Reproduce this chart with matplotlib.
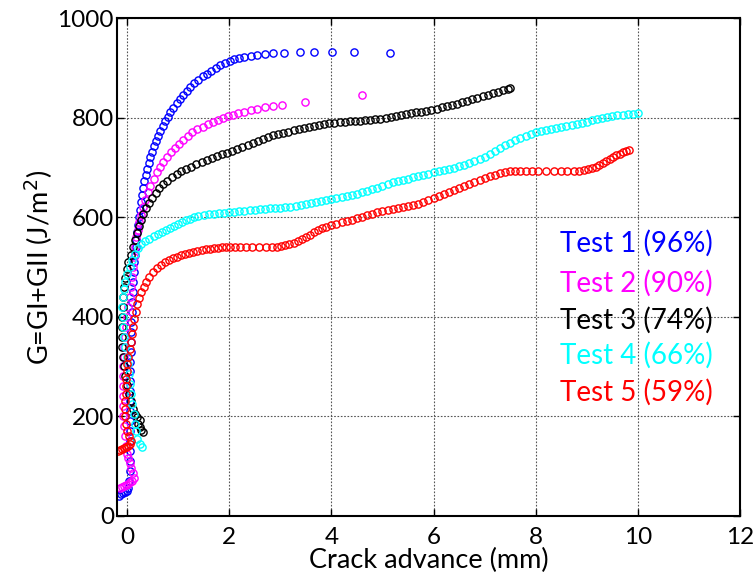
import matplotlib
matplotlib.use("Agg")
import matplotlib.pyplot as plt

plt.rcParams['font.family'] = ['Lato', 'DejaVu Sans']

# Test 1 (96%)
x1 = [-0.16, -0.12, -0.08, -0.04, 0.0, 0.03, 0.04, 0.05, 0.05, 0.05, 0.05, 0.05, 0.05, 0.05, 0.05,
      0.05, 0.06, 0.06, 0.06, 0.07, 0.07, 0.08, 0.08, 0.09, 0.10, 0.11, 0.12, 0.13, 0.14, 0.15,
      0.17, 0.18, 0.20, 0.21, 0.23, 0.25, 0.27, 0.29, 0.31, 0.34, 0.37, 0.40, 0.43, 0.46, 0.49,
      0.53, 0.57, 0.61, 0.65, 0.70, 0.75, 0.80, 0.85, 0.91, 0.97, 1.03, 1.10, 1.17, 1.24, 1.32,
      1.40, 1.48, 1.56, 1.65, 1.74, 1.83, 1.92, 2.01, 2.10, 2.20, 2.30, 2.42, 2.55, 2.70, 2.86,
      3.08, 3.38, 3.66, 4.02, 4.45, 5.15]
g1 = [40, 44, 46, 48, 50, 55, 70, 90, 110, 130, 150, 170, 190, 210, 230,
      250, 270, 290, 310, 330, 350, 370, 390, 410, 430, 450, 470, 490, 510, 525,
      540, 555, 570, 585, 600, 615, 630, 645, 658, 672, 685, 698, 710, 721, 732,
      743, 754, 764, 773, 783, 793, 802, 811, 820, 829, 838, 846, 854, 862, 869,
      876, 883, 889, 895, 901, 906, 911, 915, 918, 921, 923, 925, 927, 929, 930,
      931, 932, 933, 933, 932, 931]

# Test 2 (90%)
x2 = [-0.14, -0.10, -0.06, -0.02, 0.02, 0.06, 0.10, 0.14, 0.12, 0.08, 0.05, 0.02, 0.0, -0.02, -0.04,
      -0.06, -0.07, -0.08, -0.08, -0.08, -0.08, -0.07, -0.06, -0.05, -0.03, -0.01, 0.01, 0.03, 0.05, 0.07,
      0.09, 0.11, 0.13, 0.15, 0.18, 0.21, 0.24, 0.28, 0.32, 0.36, 0.41, 0.46, 0.52, 0.58, 0.64,
      0.71, 0.78, 0.86, 0.94, 1.02, 1.10, 1.19, 1.28, 1.38, 1.48, 1.58, 1.68, 1.78, 1.88, 1.98,
      2.08, 2.18, 2.30, 2.42, 2.55, 2.70, 2.85, 3.04, 3.48, 4.60]
g2 = [55, 58, 60, 62, 64, 67, 70, 75, 85, 95, 105, 115, 125, 140, 160,
      180, 200, 220, 240, 260, 280, 300, 320, 340, 360, 380, 400, 420, 440, 460,
      480, 500, 520, 540, 560, 575, 590, 605, 620, 635, 650, 663, 677, 690, 701,
      711, 721, 731, 740, 748, 756, 764, 771, 777, 782, 787, 792, 796, 800, 803,
      806, 809, 812, 815, 818, 821, 823, 826, 832, 846]

# Test 3 (74%)
x3 = [0.32, 0.28, 0.25, 0.22, 0.26, 0.20, 0.16, 0.12, 0.08, 0.04, 0.0, -0.03, -0.06, -0.08, -0.09,
      -0.10, -0.10, -0.09, -0.08, -0.07, -0.05, -0.03, 0.0, 0.03, 0.07, 0.11, 0.15, 0.19, 0.23, 0.27,
      0.32, 0.37, 0.43, 0.49, 0.56, 0.63, 0.71, 0.79, 0.88, 0.97, 1.06, 1.16, 1.26, 1.36, 1.46,
      1.56, 1.66, 1.76, 1.86, 1.96, 2.06, 2.16, 2.26, 2.36, 2.46, 2.56, 2.66, 2.76, 2.86, 2.96,
      3.06, 3.16, 3.26, 3.36, 3.46, 3.56, 3.66, 3.76, 3.86, 3.96, 4.06, 4.16, 4.26, 4.36, 4.46,
      4.56, 4.66, 4.76, 4.86, 4.96, 5.06, 5.16, 5.26, 5.36, 5.46, 5.56, 5.66, 5.76, 5.86, 5.96,
      6.06, 6.16, 6.26, 6.36, 6.46, 6.56, 6.66, 6.76, 6.86, 6.96, 7.06, 7.16, 7.26, 7.36, 7.46, 7.50]
g3 = [168, 172, 178, 185, 192, 198, 205, 215, 230, 245, 262, 280, 300, 320, 340,
      360, 380, 400, 420, 440, 460, 478, 495, 510, 525, 540, 555, 568, 582, 595,
      607, 618, 629, 639, 649, 658, 666, 673, 680, 686, 692, 697, 702, 707, 711,
      715, 719, 723, 727, 730, 734, 738, 742, 746, 750, 754, 758, 762, 765, 767,
      769, 772, 775, 778, 780, 782, 784, 786, 788, 789, 790, 791, 792, 793, 793,
      794, 795, 796, 797, 798, 800, 802, 803, 805, 807, 809, 811, 812, 814, 816,
      818, 821, 823, 826, 828, 831, 834, 837, 840, 843, 846, 849, 852, 855, 858, 859]

# Test 4 (66%)
x4 = [0.30, 0.25, 0.20, 0.17, 0.15, 0.13, 0.10, 0.08, 0.06, 0.04, 0.02, 0.0, -0.03, -0.05, -0.07,
      -0.08, -0.09, -0.08, -0.06, -0.03, 0.01, 0.05, 0.10, 0.15, 0.21, 0.28, 0.36, 0.44, 0.52, 0.60,
      0.68, 0.76, 0.84, 0.92, 1.00, 1.08, 1.16, 1.24, 1.32, 1.40, 1.50, 1.60, 1.70, 1.80, 1.90,
      2.00, 2.10, 2.20, 2.30, 2.40, 2.50, 2.60, 2.70, 2.80, 2.90, 3.00, 3.10, 3.20, 3.30, 3.40,
      3.50, 3.60, 3.70, 3.80, 3.90, 4.00, 4.10, 4.20, 4.30, 4.40, 4.50, 4.60, 4.70, 4.80, 4.90,
      5.00, 5.10, 5.20, 5.30, 5.40, 5.50, 5.60, 5.70, 5.80, 5.90, 6.00, 6.10, 6.20, 6.30, 6.40,
      6.50, 6.60, 6.70, 6.80, 6.90, 7.00, 7.10, 7.20, 7.30, 7.40, 7.50, 7.60, 7.70, 7.80, 7.90,
      8.00, 8.10, 8.20, 8.30, 8.40, 8.50, 8.60, 8.70, 8.80, 8.90, 9.00, 9.10, 9.20, 9.30, 9.40,
      9.50, 9.60, 9.70, 9.80, 9.90, 10.00]
g4 = [138, 145, 155, 170, 185, 205, 225, 245, 265, 285, 305, 320, 340, 360, 380,
      400, 420, 440, 455, 470, 485, 500, 515, 527, 538, 546, 552, 557, 562, 566,
      570, 574, 578, 582, 586, 590, 594, 597, 600, 603, 605, 606, 607, 608, 609,
      610, 611, 612, 613, 614, 615, 616, 617, 618, 618, 619, 620, 621, 622, 624,
      626, 628, 630, 632, 635, 637, 639, 641, 643, 645, 647, 650, 653, 656, 659,
      662, 666, 670, 673, 675, 677, 680, 682, 685, 687, 690, 692, 695, 697, 700,
      703, 706, 709, 713, 717, 722, 727, 733, 739, 745, 750, 755, 760, 764, 768,
      771, 774, 776, 778, 780, 782, 784, 786, 788, 790, 792, 795, 798, 800, 802,
      804, 805, 806, 807, 808, 809]

# Test 5 (59%)
x5 = [-0.18, -0.14, -0.10, -0.06, -0.02, 0.02, 0.05, 0.08, 0.04, 0.0, -0.02, -0.03, -0.03, -0.03, -0.02,
      -0.02, -0.01, 0.0, 0.01, 0.03, 0.05, 0.07, 0.09, 0.11, 0.14, 0.17, 0.20, 0.24, 0.28, 0.33,
      0.38, 0.44, 0.51, 0.58, 0.66, 0.74, 0.82, 0.90, 0.98, 1.06, 1.14, 1.22, 1.30, 1.38, 1.46,
      1.54, 1.62, 1.70, 1.78, 1.86, 1.94, 2.02, 2.12, 2.22, 2.33, 2.45, 2.58, 2.72, 2.83, 2.93,
      3.02, 3.10, 3.18, 3.26, 3.34, 3.42, 3.50, 3.58, 3.66, 3.74, 3.82, 3.90, 4.00, 4.10, 4.20,
      4.30, 4.40, 4.50, 4.60, 4.70, 4.80, 4.90, 5.00, 5.10, 5.20, 5.30, 5.40, 5.50, 5.60, 5.70,
      5.80, 5.90, 6.00, 6.10, 6.20, 6.30, 6.40, 6.50, 6.60, 6.70, 6.80, 6.90, 7.00, 7.10, 7.20,
      7.30, 7.40, 7.50, 7.60, 7.70, 7.80, 7.92, 8.05, 8.20, 8.35, 8.50, 8.62, 8.74, 8.84, 8.94,
      9.02, 9.10, 9.17, 9.24, 9.31, 9.38, 9.45, 9.52, 9.58, 9.64, 9.70, 9.76, 9.82]
g5 = [130, 132, 134, 136, 138, 140, 145, 150, 160, 170, 185, 200, 215, 230, 245,
      260, 275, 290, 305, 320, 335, 350, 365, 380, 395, 410, 425, 438, 450, 460,
      470, 480, 490, 498, 505, 510, 514, 518, 521, 524, 527, 529, 531, 533, 535,
      536, 537, 538, 539, 540, 541, 541, 541, 541, 541, 541, 540, 540, 540, 541,
      542, 544, 546, 549, 552, 556, 560, 565, 570, 575, 578, 581, 584, 587, 590,
      592, 595, 598, 601, 604, 607, 610, 612, 614, 616, 618, 620, 622, 624, 627,
      630, 634, 638, 642, 646, 650, 654, 658, 662, 666, 670, 674, 678, 682, 685,
      688, 690, 692, 693, 694, 694, 694, 694, 694, 694, 694, 694, 694, 694, 695,
      697, 699, 702, 705, 709, 713, 717, 721, 725, 728, 731, 733, 736]

series = [(x1, g1, 'Test 1 (96%)', '#0000ff'),
          (x2, g2, 'Test 2 (90%)', '#ff00ff'),
          (x3, g3, 'Test 3 (74%)', '#000000'),
          (x4, g4, 'Test 4 (66%)', '#00ffff'),
          (x5, g5, 'Test 5 (59%)', '#ff0000')]

fig = plt.figure(figsize=(7.56, 5.81), dpi=100)
ax = fig.add_axes([0.1544, 0.1124, 0.8246, 0.8561])

for x, g, lab, c in series:
    ax.plot(x, g, 'o', mfc='none', mec=c, ms=5.2, mew=1.0, label=lab)

ax.set_xlim(-0.2, 12)
ax.set_ylim(0, 1000)
ax.set_xticks([0, 2, 4, 6, 8, 10, 12])
ax.set_yticks([0, 200, 400, 600, 800, 1000])
ax.grid(True, linestyle=(0, (1.5, 1.5)), color='#555555', linewidth=0.8)
ax.tick_params(direction='in', top=True, right=True, labelsize=17.5, length=5, width=1, pad=2)
ax.tick_params(axis='x', pad=8)
for s in ax.spines.values():
    s.set_linewidth(1.5)
ax.set_xlabel('Crack advance (mm)', fontsize=19.5, labelpad=0)
ax.set_ylabel('G=GI+GII (J/m$^2$)', fontsize=19.5, labelpad=2)

ypos = [547, 467, 393, 322, 248]
for (x, g, lab, c), yp in zip(series, ypos):
    ax.text(8.48, yp, lab, color=c, fontsize=20, va='center', ha='left')

fig.savefig('out.png', dpi=100)
